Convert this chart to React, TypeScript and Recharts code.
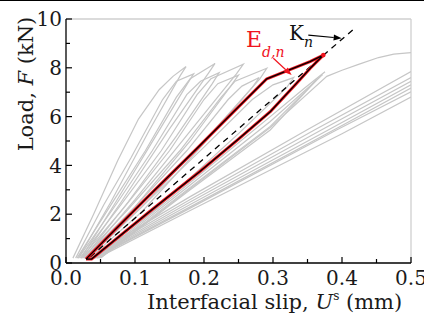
import React from 'react';
import { LineChart, Line, XAxis, YAxis, ReferenceLine, ReferenceDot, Customized } from 'recharts';

type P = { x: number; y: number };
const toPts = (a: number[][]): P[] => a.map(([x, y]) => ({ x, y }));

// tick values
const xTicks = [0, 0.05, 0.1, 0.15, 0.2, 0.25, 0.3, 0.35, 0.4, 0.45, 0.5];
const yTicks = [0, 1, 2, 3, 4, 5, 6, 7, 8, 9, 10];

// steep gray loops (slip mm, load kN)
const g1 = [[0.010, 0.2], [0.04, 2.0], [0.075, 4.2], [0.105, 5.9], [0.135, 7.1], [0.155, 7.65], [0.174, 8.05], [0.166, 7.7], [0.12, 5.4], [0.065, 2.5], [0.018, 0.2]];
const g2 = [[0.014, 0.2], [0.055, 2.4], [0.094, 4.3], [0.14, 6.7], [0.16, 7.45], [0.185, 7.75], [0.176, 7.35], [0.13, 5.2], [0.07, 2.4], [0.022, 0.2]];
const g3 = [[0.016, 0.2], [0.07, 2.6], [0.115, 4.6], [0.16, 6.8], [0.18, 7.55], [0.216, 8.18], [0.207, 7.8], [0.15, 5.5], [0.08, 2.5], [0.024, 0.2]];
const g4 = [[0.018, 0.2], [0.075, 2.5], [0.125, 4.6], [0.175, 6.9], [0.195, 7.45], [0.222, 7.8], [0.212, 7.35], [0.16, 5.2], [0.09, 2.5], [0.026, 0.2]];
const g5 = [[0.02, 0.2], [0.08, 2.4], [0.138, 4.6], [0.19, 6.9], [0.21, 7.55], [0.257, 8.15], [0.247, 7.75], [0.18, 5.4], [0.1, 2.6], [0.028, 0.2]];
const g6 = [[0.022, 0.2], [0.085, 2.3], [0.15, 4.6], [0.2, 6.7], [0.22, 7.35], [0.25, 7.7], [0.24, 7.3], [0.18, 5.0], [0.1, 2.3], [0.03, 0.2]];
const g7 = [[0.024, 0.2], [0.09, 2.2], [0.165, 4.6], [0.225, 6.8], [0.245, 7.45], [0.291, 7.98], [0.281, 7.55], [0.21, 5.3], [0.11, 2.3], [0.032, 0.2]];
const g8 = [[0.026, 0.2], [0.1, 2.3], [0.175, 4.6], [0.235, 6.7], [0.255, 7.25], [0.28, 7.6], [0.27, 7.2], [0.2, 4.9], [0.11, 2.1], [0.034, 0.2]];
const g9 = [[0.03, 0.2], [0.11, 2.3], [0.2, 4.75], [0.27, 6.7], [0.3, 7.3], [0.33, 7.6], [0.32, 7.2], [0.25, 5.3], [0.13, 2.2], [0.038, 0.2]];
// middle band, just under the highlighted loop
const m1 = [[0.044, 0.2], [0.18, 3.3], [0.296, 6.0], [0.345, 7.15], [0.3754, 7.84]];
const m2 = [[0.046, 0.2], [0.18, 3.2], [0.296, 5.8], [0.372, 7.72]];
const m3 = [[0.048, 0.2], [0.18, 3.1], [0.296, 5.6], [0.368, 7.63]];
const m4 = [[0.05, 0.2], [0.18, 3.0], [0.296, 5.45], [0.363, 7.5]];
const c1 = [[0.05, 0.2], [0.18, 3.05], [0.296, 5.55], [0.378, 7.65], [0.40, 7.9], [0.425, 8.15], [0.453, 8.42], [0.475, 8.56], [0.5, 8.62]];
// shallow group
const s1 = [[0.03, 0.2], [0.18, 2.72], [0.349, 5.45], [0.5, 7.85]];
const s2 = [[0.033, 0.2], [0.18, 2.6], [0.36, 5.45], [0.5, 7.6]];
const s3 = [[0.036, 0.2], [0.18, 2.5], [0.37, 5.45], [0.5, 7.45]];
const s4 = [[0.038, 0.2], [0.18, 2.4], [0.38, 5.45], [0.5, 7.3]];
const s5 = [[0.04, 0.2], [0.18, 2.3], [0.388, 5.45], [0.5, 7.17]];
const s6 = [[0.042, 0.2], [0.18, 2.25], [0.392, 5.45], [0.5, 7.02]];
const s7 = [[0.045, 0.2], [0.18, 2.15], [0.40, 5.3], [0.5, 6.8]];

const grayCurves = [g1, g2, g3, g4, g5, g6, g7, g8, g9, m1, m2, m3, m4, c1, s1, s2, s3, s4, s5, s6, s7];

// highlighted hysteresis loop
const loopUpper = [[0.029, 0.16], [0.06, 1.05], [0.12, 2.75], [0.19, 4.7], [0.25, 6.4], [0.291, 7.55], [0.3536, 8.25], [0.373, 8.52]];
const loopLower = [[0.354, 7.98], [0.334, 7.36], [0.296, 6.2], [0.25, 5.08], [0.194, 3.75], [0.12, 2.08], [0.037, 0.16], [0.029, 0.16]];
const loopPeak = { x: 0.373, y: 8.52 };
// secant stiffness K_n
const knLine = [[0.035, 0.25], [0.42, 9.66]];
// annotation arrows
const knArrow = [{ x: 0.3512, y: 9.34 }, { x: 0.3995, y: 9.21 }];
const eArrow = [{ x: 0.3005, y: 8.39 }, { x: 0.327, y: 7.7 }];

const loopData = toPts([...loopUpper, ...loopLower]);
const FONT = 'DejaVu Serif';
const RED = '#f0141e';

const XTick = (props: any) => {
  const { x, y, payload } = props;
  const v = payload.value;
  const major = Math.round(v * 100) % 10 === 0;
  return (
    <g>
      <line x1={x} x2={x} y1={y} y2={y - (major ? 6 : 4)} stroke="#000" strokeWidth={1.2} />
      {major && (
        <text x={x} y={y + 21.5} textAnchor="middle" fontFamily={FONT} fontSize={20} fill="#1a1a1a">
          {v.toFixed(1)}
        </text>
      )}
    </g>
  );
};

const YTick = (props: any) => {
  const { x, y, payload } = props;
  const v = payload.value;
  const major = v % 2 === 0;
  return (
    <g>
      <line x1={x} x2={x + (major ? 6 : 4)} y1={y} y2={y} stroke="#000" strokeWidth={1.2} />
      {major && (
        <text x={x - 4} y={y} dy="0.36em" textAnchor="end" fontFamily={FONT} fontSize={20} fill="#1a1a1a">
          {v}
        </text>
      )}
    </g>
  );
};

const arrowShape = (color: string) => (p: any) => {
  const { x1, y1, x2, y2 } = p;
  const ang = Math.atan2(y2 - y1, x2 - x1);
  const L = 8, W = 3;
  const bx = x2 - L * Math.cos(ang), by = y2 - L * Math.sin(ang);
  const px = -Math.sin(ang) * W, py = Math.cos(ang) * W;
  return (
    <g>
      <line x1={x1} y1={y1} x2={bx} y2={by} stroke={color} strokeWidth={1.2} />
      <polygon points={`${x2},${y2} ${bx + px},${by + py} ${bx - px},${by - py}`} fill={color} />
    </g>
  );
};

const Texts = () => (
  <g fontFamily={FONT}>
    <text transform="translate(33,84) rotate(-90)" textAnchor="middle" fontSize={21} fill="#1a1a1a">
      Load, <tspan fontStyle="italic">F</tspan> (kN)
    </text>
    <text x={147} y={309} fontSize={21} fill="#1a1a1a">
      Interfacial slip, <tspan fontStyle="italic">U</tspan>
      <tspan dy={-9} fontSize={12}>s</tspan>
      <tspan dy={9}> (mm)</tspan>
    </text>
    <text x={289} y={40} fontSize={20} fill="#111">
      K<tspan dy={7} fontSize={14} fontStyle="italic">n</tspan>
    </text>
    <text x={246} y={47} fontSize={22} fill={RED}>
      E<tspan dy={10} fontSize={14} fontStyle="italic">d,n</tspan>
    </text>
  </g>
);

export default function App() {
  return (
    <div style={{ position: 'absolute', left: 0, top: 0, width: 424, height: 320, background: '#fff' }}>
      <div style={{ position: 'absolute', left: 0, top: 0, width: 424, height: 1, background: '#000' }} />
      <LineChart width={424} height={320} margin={{ top: 19, right: 13, bottom: 17, left: 0 }}>
        <XAxis
          type="number"
          dataKey="x"
          domain={[0, 0.5]}
          ticks={xTicks}
          interval={0}
          allowDataOverflow
          height={40}
          tickSize={0}
          tickMargin={0}
          tickLine={false}
          axisLine={{ stroke: '#000', strokeWidth: 1.3 }}
          tick={<XTick />}
        />
        <YAxis
          type="number"
          dataKey="y"
          domain={[0, 10]}
          ticks={yTicks}
          interval={0}
          allowDataOverflow
          width={66}
          tickSize={0}
          tickMargin={0}
          tickLine={false}
          axisLine={{ stroke: '#000', strokeWidth: 1.3 }}
          tick={<YTick />}
        />
        <ReferenceLine y={10} stroke="#cfcfcf" strokeWidth={1.3} />
        <ReferenceLine x={0.5} stroke="#cfcfcf" strokeWidth={1.3} />
        {grayCurves.map((c, i) => (
          <Line
            key={'g' + i}
            data={toPts(c)}
            dataKey="y"
            type="linear"
            dot={false}
            activeDot={false}
            stroke="#c6c6c6"
            strokeWidth={1.2}
            isAnimationActive={false}
          />
        ))}
        <Line data={toPts(knLine)} dataKey="y" type="linear" dot={false} activeDot={false} stroke="#000" strokeWidth={1.3} strokeDasharray="6 5" isAnimationActive={false} />
        <Line data={loopData} dataKey="y" type="linear" dot={false} activeDot={false} stroke={RED} strokeWidth={3} strokeLinejoin="round" isAnimationActive={false} />
        <Line data={loopData} dataKey="y" type="linear" dot={false} activeDot={false} stroke="#000" strokeWidth={1.3} isAnimationActive={false} />
        <ReferenceDot x={loopPeak.x} y={loopPeak.y} r={2.3} fill={RED} stroke="none" />
        <ReferenceLine segment={knArrow} stroke="#000" shape={arrowShape('#000')} />
        <ReferenceLine segment={eArrow} stroke={RED} shape={arrowShape(RED)} />
        <Customized component={Texts} />
      </LineChart>
    </div>
  );
}
